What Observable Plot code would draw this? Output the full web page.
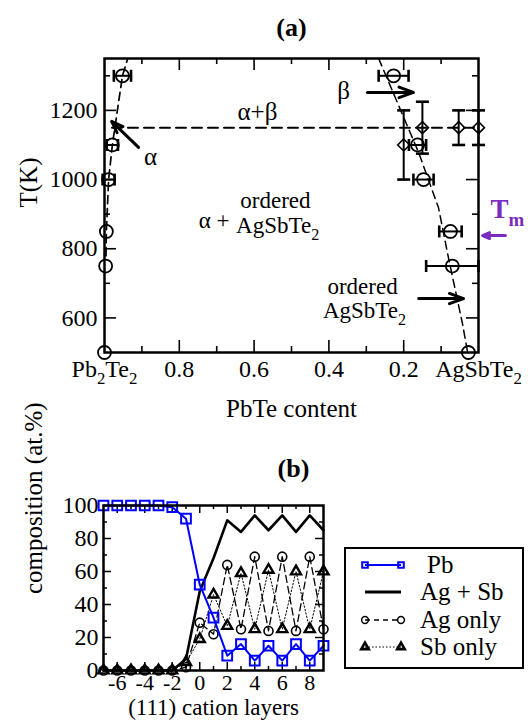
<!DOCTYPE html>
<html><head><meta charset="utf-8">
<script src="https://cdn.jsdelivr.net/npm/d3@7"></script>
<script src="https://cdn.jsdelivr.net/npm/@observablehq/plot@0.6"></script>
<style>
html,body{margin:0;padding:0;background:#fff;}
#wrap{position:relative;width:528px;height:720px;overflow:hidden;background:#fff;}
#wrap svg{position:absolute;left:0;}
#wrap svg, #wrap svg text, #wrap svg tspan{font-family:"Liberation Serif","Tinos","Times New Roman","Nimbus Roman","DejaVu Serif",serif !important;}
</style></head><body><div id="wrap"></div>
<script>
const FONT = "Liberation Serif, Tinos, Times New Roman, DejaVu Serif, serif";

// ---------- panel (a) data ----------
const leftX   = [1.0, 0.997, 0.995, 0.989, 0.979, 0.952];
const leftT   = [500, 750, 850, 1000, 1100, 1300];
const leftErr = [0, 0, 0, 0.016, 0.015, 0.023];
const rightX   = [0.227, 0.163, 0.147, 0.075, 0.070, 0.027];
const rightT   = [1300, 1100, 1000, 850, 750, 500];
const rightErr = [0.04, 0.023, 0.027, 0.03, 0.07, 0];
const diaX   = [0.20, 0.15, 0.053, 0.0];
const diaT   = [1100, 1150, 1150, 1150];
const diaErr = [100, 75, 50, 50];
const leftBoundX  = [0.996, 0.995, 0.989, 0.979, 0.952, 0.938];
const leftBoundT  = [780, 850, 1000, 1100, 1300, 1350];
const rightBoundX = [0.267, 0.160, 0.107, 0.080, 0.043, 0.029];
const rightBoundT = [1350, 1078, 919, 772, 584, 500];
const eutecticX = [0.98, 0.0];
const eutecticT = [1150, 1150];
const xTickValsA   = [1, 0.8, 0.6, 0.4, 0.2, 0];
const xTickLabelsA = ["Pb_2Te_2", "0.8", "0.6", "0.4", "0.2", "AgSbTe_2"];
const xMinorA = [0.9, 0.7, 0.5, 0.3, 0.1];
const yTickValsA = [600, 800, 1000, 1200];
const yMinorA = [700, 900, 1100, 1300];

// annotations of panel (a), anchored in data space (x = PbTe content, T in K)
const labelsA = [
  {text: "α+β", x: 0.591, T: 1194},
  {text: "β", x: 0.361, T: 1257},
  {text: "α", x: 0.877, T: 1064},
  {text: "α +", x: 0.707, T: 882},
  {text: "ordered", x: 0.543, T: 939},
  {text: "AgSbTe_2", x: 0.537, T: 867},
  {text: "ordered", x: 0.31, T: 691},
  {text: "AgSbTe_2", x: 0.305, T: 621}
];
const arrowsA = [
  {x1: 0.909, T1: 1093, x2: 0.981, T2: 1168},
  {x1: 0.297, T1: 1252, x2: 0.174, T2: 1252},
  {x1: 0.16, T1: 656, x2: 0.04, T2: 656}
];
const tmLabel = [{text: "T_m", x: -0.032, T: 913}];
const tmArrow = [{x1: -0.072, T1: 838, x2: -0.011, T2: 838}];

// ---------- panel (b) data ----------
const layers = [-7, -6, -5, -4, -3, -2, -1, 0, 1, 2, 3, 4, 5, 6, 7, 8, 9];
const pbVals   = [100, 100, 100, 100, 100, 99, 92, 52, 32, 9, 16, 6, 15, 6, 16, 6, 15];
const agsbVals = [0, 0, 0, 0, 0, 0, 7, 48, 68, 91, 84, 94, 85, 94, 84, 94, 85];
const agVals   = [0, 0, 0, 0, 0, 0, 2, 29, 22, 64, 25, 69, 24, 69, 24, 69, 25];
const sbVals   = [0, 0, 0, 0, 0, 0, 5, 19, 46, 27, 59, 25, 61, 25, 60, 25, 60];
const seriesNames = ["Pb", "Ag + Sb", "Ag only", "Sb only"];
const xTickValsB = [-6, -4, -2, 0, 2, 4, 6, 8];
const xMinorB = [-5, -3, -1, 1, 3, 5, 7];
const yTickValsB = [0, 20, 40, 60, 80, 100];
const yMinorB = [10, 30, 50, 70, 90];

// ---------- helpers ----------
const capV = {draw(ctx, size) { const r = Math.sqrt(size / Math.PI); ctx.moveTo(0, -r); ctx.lineTo(0, r); }};
const capH = {draw(ctx, size) { const r = Math.sqrt(size / Math.PI); ctx.moveTo(-r, 0); ctx.lineTo(r, 0); }};

function applySubscripts(svg) {
  d3.select(svg).selectAll("text").each(function() {
    if (this.querySelector("tspan")) return;
    const t = this.textContent;
    if (!t || t.indexOf("_") < 0) return;
    const fs = parseFloat(getComputedStyle(this).fontSize) || 24;
    const shift = Math.round(fs * 0.3);
    const parts = t.split(/_([^_\s])/);
    const sel = d3.select(this);
    sel.text(null);
    let shifted = false;
    parts.forEach((p, i) => {
      if (p === "") return;
      const ts = sel.append("tspan").text(p);
      if (i % 2 === 1) { ts.attr("dy", shift).style("font-size", (fs * 0.7).toFixed(1) + "px"); shifted = true; }
      else if (shifted) { ts.attr("dy", -shift); shifted = false; }
    });
  });
}

// ---------- panel (a) ----------
const HA = 440, mA = {top: 58, right: 50, bottom: 88, left: 104};
const fhA = HA - mA.top - mA.bottom, fwA = 528 - mA.left - mA.right;
const circPts = leftX.map((x, i) => ({x, T: leftT[i], e: leftErr[i]}))
  .concat(rightX.map((x, i) => ({x, T: rightT[i], e: rightErr[i]})));
const errPts = circPts.filter(d => d.e > 0);
const diaPts = diaX.map((x, i) => ({x, T: diaT[i], e: diaErr[i]}));
const lb = leftBoundX.map((x, i) => ({x, T: leftBoundT[i]}));
const rb = rightBoundX.map((x, i) => ({x, T: rightBoundT[i]}));
const eu = eutecticX.map((x, i) => ({x, T: eutecticT[i]}));
const tickStroke = {stroke: "black", strokeWidth: 1.6};

const plotA = Plot.plot({
  width: 528, height: HA,
  marginTop: mA.top, marginRight: mA.right, marginBottom: mA.bottom, marginLeft: mA.left,
  x: {domain: [1, 0], axis: null},
  y: {domain: [500, 1350], axis: null},
  style: {fontFamily: FONT, fontSize: "24px", color: "black", background: "white", overflow: "visible"},
  marks: [
    Plot.ruleX(xTickValsA.slice(1, -1), {insetTop: fhA - 12, ...tickStroke}),
    Plot.ruleX(xTickValsA.slice(1, -1), {insetBottom: fhA - 12, ...tickStroke}),
    Plot.ruleX(xMinorA, {insetTop: fhA - 6, ...tickStroke}),
    Plot.ruleX(xMinorA, {insetBottom: fhA - 6, ...tickStroke}),
    Plot.ruleY(yTickValsA, {insetRight: fwA - 12, ...tickStroke}),
    Plot.ruleY(yTickValsA, {insetLeft: fwA - 12, ...tickStroke}),
    Plot.ruleY(yMinorA, {insetRight: fwA - 6, ...tickStroke}),
    Plot.ruleY(yMinorA, {insetLeft: fwA - 6, ...tickStroke}),
    Plot.line(lb, {x: "x", y: "T", stroke: "black", strokeWidth: 1.7, strokeDasharray: "8,5"}),
    Plot.line(rb, {x: "x", y: "T", stroke: "black", strokeWidth: 1.5, strokeDasharray: "8,5"}),
    Plot.line(eu, {x: "x", y: "T", stroke: "black", strokeWidth: 2, strokeDasharray: "10,6"}),
    Plot.ruleY(errPts, {y: "T", x1: d => d.x - d.e, x2: d => d.x + d.e, stroke: "black", strokeWidth: 2}),
    Plot.dot(errPts, {x: d => d.x - d.e, y: "T", symbol: capV, r: 6, stroke: "black", fill: "none", strokeWidth: 2.6}),
    Plot.dot(errPts, {x: d => d.x + d.e, y: "T", symbol: capV, r: 6, stroke: "black", fill: "none", strokeWidth: 2.6}),
    Plot.ruleX(diaPts, {x: "x", y1: d => d.T - d.e, y2: d => d.T + d.e, stroke: "black", strokeWidth: 2}),
    Plot.dot(diaPts, {x: "x", y: d => d.T - d.e, symbol: capH, r: 6.5, stroke: "black", fill: "none", strokeWidth: 2.6}),
    Plot.dot(diaPts, {x: "x", y: d => d.T + d.e, symbol: capH, r: 6.5, stroke: "black", fill: "none", strokeWidth: 2.6}),
    Plot.dot(circPts, {x: "x", y: "T", r: 6.5, stroke: "black", fill: "none", strokeWidth: 1.8}),
    Plot.dot(diaPts, {x: "x", y: "T", symbol: "diamond2", r: 5.4, stroke: "black", fill: "none", strokeWidth: 1.6}),
    Plot.arrow(arrowsA, {x1: "x1", y1: "T1", x2: "x2", y2: "T2", stroke: "black", strokeWidth: 3, headLength: 13, headAngle: 40}),
    Plot.arrow(tmArrow, {x1: "x1", y1: "T1", x2: "x2", y2: "T2", stroke: "#7a2cbf", strokeWidth: 3, headLength: 11, headAngle: 45}),
    Plot.text(labelsA.slice(0, 3), {x: "x", y: "T", text: "text", fontSize: 25}),
    Plot.text(labelsA.slice(3), {x: "x", y: "T", text: "text", fontSize: 23}),
    Plot.text(tmLabel, {x: "x", y: "T", text: "text", fontSize: 27, fontWeight: "bold", fill: "#7a2cbf", textAnchor: "start"}),
    Plot.frame({stroke: "black", strokeWidth: 2.5}),
    Plot.text(xTickValsA, {x: d => d, text: (d, i) => xTickLabelsA[i], frameAnchor: "bottom", lineAnchor: "middle", dy: 17, fontSize: 24}),
    Plot.text(yTickValsA, {y: d => d, text: d => String(d), frameAnchor: "left", textAnchor: "end", lineAnchor: "middle", dx: -7, fontSize: 24}),
    Plot.text(["PbTe content"], {frameAnchor: "bottom", lineAnchor: "middle", dy: 56, fontSize: 25}),
    Plot.text(["T(K)"], {frameAnchor: "left", lineAnchor: "middle", rotate: -90, dx: -76, dy: 2, fontSize: 25}),
    Plot.text(["(a)"], {frameAnchor: "top", lineAnchor: "middle", dy: -31, fontSize: 26, fontWeight: "bold"})
  ]
});

// ---------- panel (b) ----------
const HB = 280, mB = {top: 65, right: 205, bottom: 50, left: 103};
const fhB = HB - mB.top - mB.bottom, fwB = 528 - mB.left - mB.right;
const rowsB = layers.map((l, i) => ({l, pb: pbVals[i], agsb: agsbVals[i], ag: agVals[i], sb: sbVals[i]}));
const tickB = {stroke: "black", strokeWidth: 1.5};

const plotB = Plot.plot({
  width: 528, height: HB,
  marginTop: mB.top, marginRight: mB.right, marginBottom: mB.bottom, marginLeft: mB.left,
  x: {domain: [-7, 9], axis: null},
  y: {domain: [0, 100], axis: null},
  style: {fontFamily: FONT, fontSize: "24px", color: "black", background: "white", overflow: "visible"},
  marks: [
    Plot.ruleX(xTickValsB, {insetTop: fhB - 8, ...tickB}),
    Plot.ruleX(xTickValsB, {insetBottom: fhB - 8, ...tickB}),
    Plot.ruleX(xMinorB, {insetTop: fhB - 4, ...tickB}),
    Plot.ruleX(xMinorB, {insetBottom: fhB - 4, ...tickB}),
    Plot.ruleY(yTickValsB.slice(1, -1), {insetRight: fwB - 8, ...tickB}),
    Plot.ruleY(yTickValsB.slice(1, -1), {insetLeft: fwB - 8, ...tickB}),
    Plot.ruleY(yMinorB, {insetRight: fwB - 4, ...tickB}),
    Plot.ruleY(yMinorB, {insetLeft: fwB - 4, ...tickB}),
    Plot.line(rowsB, {x: "l", y: "agsb", stroke: "black", strokeWidth: 2.6}),
    Plot.line(rowsB, {x: "l", y: "ag", stroke: "black", strokeWidth: 1.3, strokeDasharray: "7,4"}),
    Plot.line(rowsB, {x: "l", y: "sb", stroke: "black", strokeWidth: 1, strokeDasharray: "1.5,2"}),
    Plot.dot(rowsB, {x: "l", y: "ag", r: 4.5, stroke: "black", fill: "none", strokeWidth: 1.6}),
    Plot.dot(rowsB, {x: "l", y: "sb", symbol: "triangle2", r: 4.8, stroke: "black", fill: "none", strokeWidth: 2.4}),
    Plot.line(rowsB, {x: "l", y: "pb", stroke: "#0000ff", strokeWidth: 2}),
    Plot.dot(rowsB, {x: "l", y: "pb", symbol: "square2", r: 6.2, stroke: "#0000ff", fill: "none", strokeWidth: 2}),
    Plot.frame({stroke: "black", strokeWidth: 2.5}),
    Plot.text(xTickValsB, {x: d => d, text: d => (d < 0 ? "-" + Math.abs(d) : String(d)), frameAnchor: "bottom", lineAnchor: "middle", dy: 12.6, fontSize: 22}),
    Plot.text(yTickValsB, {y: d => d, text: d => String(d), frameAnchor: "left", textAnchor: "end", lineAnchor: "middle", dx: -5, fontSize: 24}),
    Plot.text(["(111) cation layers"], {frameAnchor: "bottom", lineAnchor: "middle", dy: 37.6, fontSize: 23}),
    Plot.text(["composition (at.%)"], {frameAnchor: "left", lineAnchor: "middle", rotate: -90, dx: -70, dy: 6, fontSize: 25}),
    Plot.text(["(b)"], {frameAnchor: "top", lineAnchor: "middle", dx: 80, dy: -37, fontSize: 26, fontWeight: "bold"})
  ]
});

const wrap = document.getElementById("wrap");
plotA.style.top = "0px";
plotB.style.top = HA + "px";
wrap.appendChild(plotA);
wrap.appendChild(plotB);
applySubscripts(plotA);
applySubscripts(plotB);

// ---------- legend of panel (b) ----------
(function legend() {
  const g = d3.select(plotB).append("g").attr("font-size", 25).attr("text-anchor", "start");
  g.append("rect").attr("x", 345).attr("y", 108).attr("width", 178).attr("height", 120)
    .attr("fill", "white").attr("stroke", "black").attr("stroke-width", 2);
  const rowY = [125, 152, 180, 207];
  const xa = 365, xb = 401;
  const sty = [
    {stroke: "#0000ff", w: 2, dash: null, sym: d3.symbolSquare2, size: 40, sw: 2, fill: "none"},
    {stroke: "black", w: 3, dash: null, sym: null},
    {stroke: "black", w: 1.3, dash: "5,4", sym: d3.symbolCircle, size: 36, sw: 1.5, fill: "none"},
    {stroke: "black", w: 1, dash: "1.5,2", sym: d3.symbolTriangle2, size: 40, sw: 2.6, fill: "none"}
  ];
  seriesNames.forEach((name, i) => {
    const s = sty[i], y = rowY[i];
    g.append("line").attr("x1", xa).attr("x2", xb).attr("y1", y).attr("y2", y)
      .attr("stroke", s.stroke).attr("stroke-width", s.w).attr("stroke-dasharray", s.dash);
    if (s.sym) {
      [xa, xb].forEach(x => g.append("path").attr("d", d3.symbol(s.sym, s.size)())
        .attr("transform", `translate(${x},${y})`).attr("fill", s.fill)
        .attr("stroke", s.stroke).attr("stroke-width", s.sw));
    }
    g.append("text").attr("x", i === 0 ? 427 : 420).attr("y", y).attr("dy", "0.33em")
      .attr("text-anchor", "start").attr("fill", "black").text(name);
  });
})();
</script></body></html>
